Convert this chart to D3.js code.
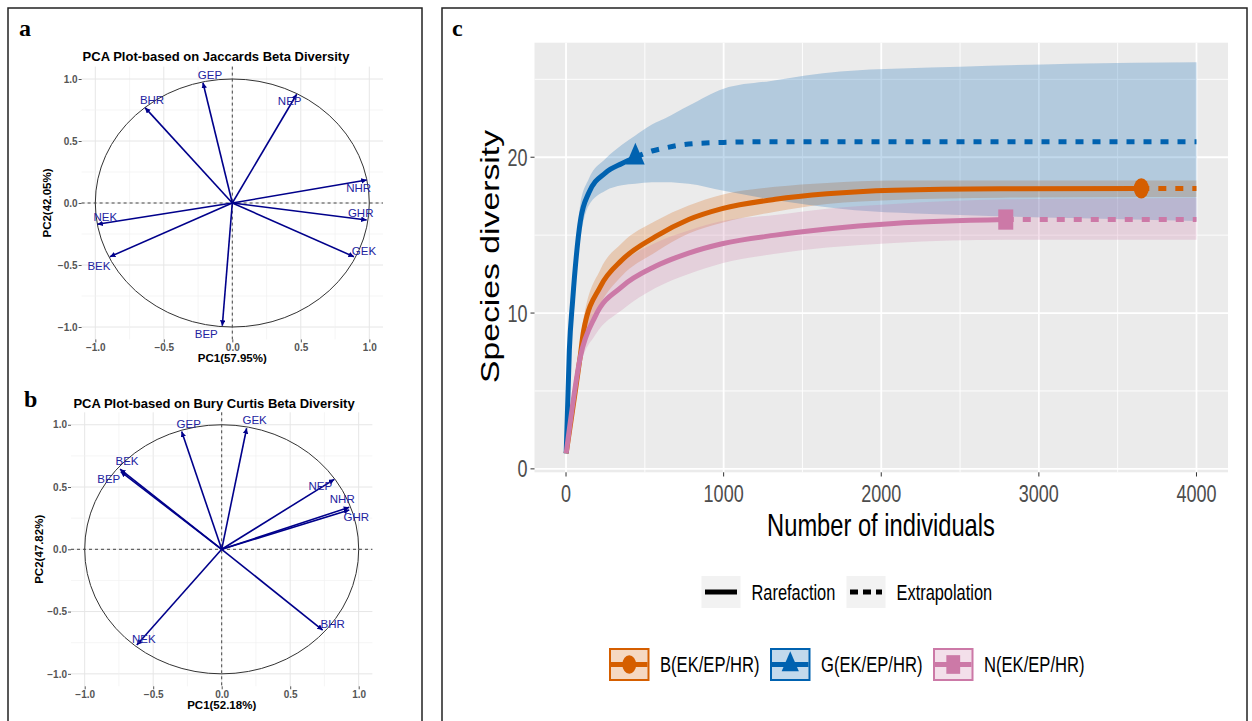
<!DOCTYPE html>
<html>
<head>
<meta charset="utf-8">
<script src="https://cdn.jsdelivr.net/npm/d3@7"></script>
<style>
  body { margin: 0; background: #fff; }
  svg { font-family: "Liberation Sans", Arial, Helvetica, sans-serif; }
</style>
</head>
<body>
<div id="chart"></div>
<script>
// ---- data: PCA loadings (a: Jaccard, b: Bray/"Bury" Curtis)
var jaccNames = ["GEP", "BHR", "NEP", "NHR", "GHR", "GEK", "NEK", "BEK", "BEP"];
var jaccPC1   = [-0.214, -0.637, 0.470, 0.981, 0.981, 0.888, -0.985, -0.893, -0.073];
var jaccPC2   = [0.970, 0.769, 0.877, 0.185, -0.137, -0.433, -0.172, -0.433, -0.990];

var brayNames = ["GEP", "GEK", "BEK", "BEP", "NEP", "NHR", "GHR", "NEK", "BHR"];
var brayPC1   = [-0.292, 0.182, -0.742, -0.737, 0.822, 0.931, 0.931, -0.620, 0.737];
var brayPC2   = [0.945, 0.972, 0.643, 0.623, 0.562, 0.337, 0.316, -0.769, -0.648];

var pcaTicks = [-1.0, -0.5, 0.0, 0.5, 1.0];

// ---- data: rarefaction / extrapolation curves, rows = [individuals, diversity, lower, upper]
var groupNames  = ["B(EK/EP/HR)", "G(EK/EP/HR)", "N(EK/EP/HR)"];
var groupColors = ["#D55E00", "#0062B0", "#CC79A7"];
var groupShapes = ["circle", "triangle", "square"];

var bRare = [[1,1,1,1],[91,7.3,6.6,8.0],[112,8.9,8.1,9.7],[218,11.7,10.6,12.8],[355,13.4,12.4,14.5],
             [567,14.9,13.9,15.9],[778,16.0,15.1,16.9],[990,16.7,15.8,17.6],[1328,17.3,16.5,18.1],
             [1656,17.65,17.0,18.35],[2079,17.88,17.25,18.5],[2756,17.98,17.4,18.5],[3650,18.0,17.45,18.5]];
var bExtra = [[3650,18.0,17.45,18.5],[4000,18.0,17.45,18.5]];

var gRare = [[1,1,1,1],[21,7.6,7.0,8.2],[42,10.8,10.0,11.7],[91,15.9,14.8,17.0],[144,17.7,16.9,18.6],
             [250,19.0,17.85,19.9],[355,19.6,18.2,20.8],[440,20.0,18.3,21.4]];
var gExtra = [[440,20.0,18.3,21.4],[545,20.4,18.4,22.1],[630,20.6,18.4,22.5],[778,20.85,18.3,23.3],
              [1000,20.95,17.85,24.4],[1300,21.0,17.3,24.9],[1740,21.0,16.7,25.5],[2500,21.0,16.3,25.8],
              [3200,21.0,16.1,26.0],[4000,21.0,15.9,26.1]];

var nRare = [[1,1,1,1],[91,7.2,6.6,7.8],[186,9.8,8.6,11.0],[355,11.7,10.2,13.2],[567,13.0,11.6,14.5],
             [778,13.85,12.5,15.3],[990,14.45,13.2,15.9],[1328,15.0,13.8,16.3],[1656,15.4,14.2,16.7],
             [2079,15.75,14.5,17.0],[2790,16.0,14.7,17.3]];
var nExtra = [[2790,16.0,14.7,17.3],[3400,16.0,14.7,17.35],[4000,16.0,14.7,17.4]];

var xTicksC = [0, 1000, 2000, 3000, 4000];
var yTicksC = [0, 10, 20];
var methodNames = ["Rarefaction", "Extrapolation"];

// ---- label nudges (pixels) for the arrow names
var jaccNudge = {GEP:[7,-8], BHR:[7,-8], NEP:[-7,7], NHR:[-8,8], GHR:[-6,-7], GEK:[10,-6], NEK:[8,-7], BEK:[-11,9], BEP:[-16,8]};
var brayNudge = {GEP:[7,-8], GEK:[8,-8], BEK:[7,-8], BEP:[-12,7], NEP:[-14,7], NHR:[-7,-8], GHR:[7,7], NEK:[7,-6], BHR:[10,-6]};

var SERIF = "'Liberation Serif', 'Times New Roman', serif";

var W = 1252, H = 721;
var svg = d3.select("#chart").append("svg").attr("width", W).attr("height", H);
svg.append("rect").attr("width", W).attr("height", H).attr("fill", "#fff");

var defs = svg.append("defs");
defs.append("marker").attr("id", "arr")
  .attr("markerUnits", "userSpaceOnUse")
  .attr("markerWidth", 8).attr("markerHeight", 8)
  .attr("refX", 5.5).attr("refY", 2.75).attr("orient", "auto")
  .append("path").attr("d", "M0,0 L5.5,2.75 L0,5.5 z").attr("fill", "#00008B");

// frames
svg.append("rect").attr("x", 8).attr("y", 8).attr("width", 414).attr("height", 740)
  .attr("fill", "none").attr("stroke", "#222").attr("stroke-width", 1.5);
svg.append("rect").attr("x", 442).attr("y", 8).attr("width", 805).attr("height", 740)
  .attr("fill", "none").attr("stroke", "#222").attr("stroke-width", 1.5);

function drawPCA(names, pc1, pc2, nudge, L) {
  var g = svg.append("g");
  var x = d3.scaleLinear().domain([-1.1, 1.1]).range([L.x0, L.x1]);
  var y = d3.scaleLinear().domain([-1.1, 1.1]).range([L.y1, L.y0]);

  // grid (major + minor)
  var gridVals = d3.range(-1, 1.01, 0.25);
  gridVals.forEach(function(v){
    var major = Math.abs(v * 2 - Math.round(v * 2)) < 1e-6;
    g.append("line").attr("x1", x(v)).attr("x2", x(v)).attr("y1", L.y0).attr("y2", L.y1)
      .attr("stroke", major ? "#e6e6e6" : "#f1f1f1").attr("stroke-width", major ? 1 : 0.7);
    g.append("line").attr("y1", y(v)).attr("y2", y(v)).attr("x1", L.x0).attr("x2", L.x1)
      .attr("stroke", major ? "#e6e6e6" : "#f1f1f1").attr("stroke-width", major ? 1 : 0.7);
  });

  // correlation circle
  g.append("ellipse").attr("cx", x(0)).attr("cy", y(0))
    .attr("rx", x(1) - x(0)).attr("ry", y(0) - y(1))
    .attr("fill", "none").attr("stroke", "#333").attr("stroke-width", 1);

  g.append("line").attr("x1", x(0)).attr("x2", x(0)).attr("y1", L.y0).attr("y2", L.y1)
    .attr("stroke", "#444").attr("stroke-dasharray", "3,3").attr("stroke-width", 1);
  g.append("line").attr("y1", y(0)).attr("y2", y(0)).attr("x1", L.x0).attr("x2", L.x1)
    .attr("stroke", "#444").attr("stroke-dasharray", "3,3").attr("stroke-width", 1);

  // axes
  var xAxis = d3.axisBottom(x).tickValues(pcaTicks).tickSize(3).tickFormat(d3.format(".1f"));
  var yAxis = d3.axisLeft(y).tickValues(pcaTicks).tickSize(3).tickFormat(d3.format(".1f"));
  var ax = g.append("g").attr("transform", "translate(0," + L.y1 + ")").call(xAxis);
  var ay = g.append("g").attr("transform", "translate(" + L.x0 + ",0)").call(yAxis);
  [ax, ay].forEach(function(a){
    a.attr("font-family", null);
    a.select(".domain").remove();
    a.selectAll(".tick line").attr("stroke", "#555");
    a.selectAll("text").attr("fill", "#555").attr("font-size", 10).attr("font-weight", "bold");
  });
  ay.selectAll("text").attr("x", -4);
  ax.selectAll("text").attr("y", 5);

  // arrows
  names.forEach(function(n, i){
    g.append("line").attr("x1", x(0)).attr("y1", y(0)).attr("x2", x(pc1[i])).attr("y2", y(pc2[i]))
      .attr("stroke", "#00008B").attr("stroke-width", 1.6).attr("marker-end", "url(#arr)");
  });
  names.forEach(function(n, i){
    g.append("text").attr("x", x(pc1[i]) + nudge[n][0]).attr("y", y(pc2[i]) + nudge[n][1])
      .attr("dy", "0.35em").attr("text-anchor", "middle").attr("font-size", 11.5)
      .attr("fill", "#2323a0").text(n);
  });

  // titles
  g.append("text").attr("x", L.titleX).attr("y", L.titleY).attr("text-anchor", "middle")
    .attr("font-size", 13).attr("font-weight", "bold").text(L.title);
  g.append("text").attr("x", x(0)).attr("y", L.xTitleY).attr("text-anchor", "middle")
    .attr("font-size", 11.5).attr("font-weight", "bold").text(L.xTitle);
  g.append("text").attr("transform", "translate(" + L.yTitleX + "," + y(0) + ") rotate(-90)")
    .attr("text-anchor", "middle").attr("dy", "0.35em")
    .attr("font-size", 11.5).attr("font-weight", "bold").text(L.yTitle);
  g.append("text").attr("x", L.letterX).attr("y", L.letterY)
    .style("font-family", SERIF)
    .attr("font-weight", "bold").attr("font-size", 24).text(L.letter);
}

drawPCA(jaccNames, jaccPC1, jaccPC2, jaccNudge, {
  x0: 81.6, x1: 383, y0: 66.6, y1: 339.4,
  title: "PCA Plot-based on Jaccards Beta Diversity", titleX: 216, titleY: 60.5,
  xTitle: "PC1(57.95%)", xTitleY: 362, yTitle: "PC2(42.05%)", yTitleX: 47,
  letter: "a", letterX: 19, letterY: 36
});
drawPCA(brayNames, brayPC1, brayPC2, brayNudge, {
  x0: 71, x1: 372.4, y0: 412.3, y1: 686.3,
  title: "PCA Plot-based on Bury Curtis Beta Diversity", titleX: 214, titleY: 407.5,
  xTitle: "PC1(52.18%)", xTitleY: 708.5, yTitle: "PC2(47.82%)", yTitleX: 39,
  letter: "b", letterX: 24, letterY: 407
});

// ---- panel c: rarefaction curves (the original is stretched vertically ~1.35x)
var SY = 1.35;
function stext(parent, x, y, str, size, anchor, fill, rotate) {
  var t = rotate ? "translate(" + x + "," + y + ") rotate(-90) scale(" + SY + ",1)"
                 : "translate(" + x + "," + y + ") scale(1," + SY + ")";
  return parent.append("g").attr("transform", t).append("text")
    .attr("text-anchor", anchor).attr("dy", "0.35em").attr("font-size", size)
    .attr("fill", fill).text(str);
}

var pc = svg.append("g");
var xC = d3.scaleLinear().domain([-200, 4200]).range([534.5, 1228]);
var yC = d3.scaleLinear().domain([-0.22, 27.35]).range([472.3, 42.7]);

pc.append("rect").attr("x", xC.range()[0]).attr("y", yC.range()[1])
  .attr("width", xC.range()[1] - xC.range()[0]).attr("height", yC.range()[0] - yC.range()[1])
  .attr("fill", "#EBEBEB");

[500, 1500, 2500, 3500].forEach(function(v){
  pc.append("line").attr("x1", xC(v)).attr("x2", xC(v)).attr("y1", yC.range()[1]).attr("y2", yC.range()[0])
    .attr("stroke", "#fff").attr("stroke-width", 0.9);
});
[5, 15, 25].forEach(function(v){
  pc.append("line").attr("y1", yC(v)).attr("y2", yC(v)).attr("x1", xC.range()[0]).attr("x2", xC.range()[1])
    .attr("stroke", "#fff").attr("stroke-width", 0.9);
});
xTicksC.forEach(function(v){
  pc.append("line").attr("x1", xC(v)).attr("x2", xC(v)).attr("y1", yC.range()[1]).attr("y2", yC.range()[0])
    .attr("stroke", "#fff").attr("stroke-width", 1.8);
});
yTicksC.forEach(function(v){
  pc.append("line").attr("y1", yC(v)).attr("y2", yC(v)).attr("x1", xC.range()[0]).attr("x2", xC.range()[1])
    .attr("stroke", "#fff").attr("stroke-width", 1.8);
});

var series = [[bRare, bExtra], [gRare, gExtra], [nRare, nExtra]];

var area = d3.area().x(function(d){ return xC(d[0]); })
  .y0(function(d){ return yC(d[2]); }).y1(function(d){ return yC(d[3]); })
  .curve(d3.curveMonotoneX);
var line = d3.line().x(function(d){ return xC(d[0]); }).y(function(d){ return yC(d[1]); })
  .curve(d3.curveMonotoneX);

series.forEach(function(s, i){
  pc.append("path").attr("d", area(s[0].concat(s[1].slice(1))))
    .attr("fill", groupColors[i]).attr("fill-opacity", 0.24);
});
series.forEach(function(s, i){
  pc.append("path").attr("d", line(s[0])).attr("fill", "none")
    .attr("stroke", groupColors[i]).attr("stroke-width", 5);
  pc.append("path").attr("d", line(s[1])).attr("fill", "none")
    .attr("stroke", groupColors[i]).attr("stroke-width", 5).attr("stroke-dasharray", "8,9");
});

var symbolType = { circle: d3.symbolCircle, triangle: d3.symbolTriangle, square: d3.symbolSquare };
var symbolSize = { circle: 177, triangle: 150, square: 225 };
function marker(parent, x, y, i, k) {
  var sh = groupShapes[i];
  parent.append("path")
    .attr("d", d3.symbol().type(symbolType[sh]).size(symbolSize[sh] * k)())
    .attr("transform", "translate(" + x + "," + y + ") scale(1," + SY + ")")
    .attr("fill", groupColors[i]);
}
series.forEach(function(s, i){
  var last = s[0][s[0].length - 1];
  marker(pc, xC(last[0]), yC(last[1]), i, 1);
});

// axes
xTicksC.forEach(function(v){
  pc.append("line").attr("x1", xC(v)).attr("x2", xC(v)).attr("y1", 472.3).attr("y2", 476.5)
    .attr("stroke", "#333").attr("stroke-width", 1);
  stext(pc, xC(v), 493.5, String(v), 18, "middle", "#4D4D4D");
});
yTicksC.forEach(function(v){
  pc.append("line").attr("x1", 530.5).attr("x2", 534.5).attr("y1", yC(v)).attr("y2", yC(v))
    .attr("stroke", "#333").attr("stroke-width", 1);
  stext(pc, 527.5, yC(v), String(v), 18, "end", "#4D4D4D");
});
stext(pc, 881, 525, "Number of individuals", 23.7, "middle", "#000");
stext(pc, 490, 256.5, "Species diversity", 25, "middle", "#000", true);

pc.append("text").attr("x", 452).attr("y", 36)
  .style("font-family", SERIF)
  .attr("font-weight", "bold").attr("font-size", 24).text("c");

// legend: method
var methodBoxX = [701.5, 846.5];
methodNames.forEach(function(m, i){
  var bx = methodBoxX[i];
  pc.append("rect").attr("x", bx).attr("y", 576).attr("width", 39).attr("height", 32).attr("fill", "#F2F2F2");
  pc.append("line").attr("x1", bx + 3.5).attr("x2", bx + 35.5).attr("y1", 592).attr("y2", 592)
    .attr("stroke", "#000").attr("stroke-width", 5)
    .attr("stroke-dasharray", i === 1 ? "8,5" : null);
  stext(pc, bx + 50, 592, m, 16.4, "start", "#000");
});

// legend: groups
var groupBoxX = [610, 771, 934];
groupNames.forEach(function(nm, i){
  var bx = groupBoxX[i];
  pc.append("rect").attr("x", bx).attr("y", 649).attr("width", 38.5).attr("height", 31)
    .attr("fill", d3.interpolateRgb("#fff", groupColors[i])(0.24))
    .attr("stroke", groupColors[i]).attr("stroke-width", 2);
  pc.append("line").attr("x1", bx + 1).attr("x2", bx + 37.5).attr("y1", 664.5).attr("y2", 664.5)
    .attr("stroke", groupColors[i]).attr("stroke-width", 5);
  marker(pc, bx + 19.25, 664.5, i, 0.85);
  stext(pc, bx + 50, 664.5, nm, 16.6, "start", "#000");
});
</script>
</body>
</html>
